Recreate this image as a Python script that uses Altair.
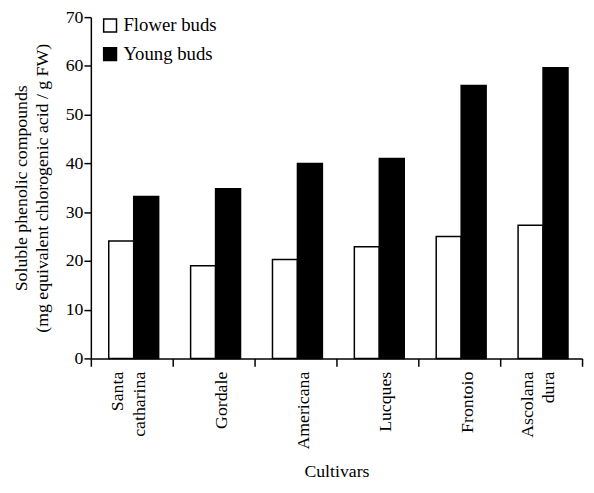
import altair as alt
import pandas as pd

cultivars = ["Santa catharina", "Gordale", "Americana", "Lucques", "Frontoio", "Ascolana dura"]
flower_buds = [24.1, 19.0, 20.3, 22.9, 25.0, 27.3]
young_buds = [33.2, 34.8, 40.0, 41.0, 56.0, 59.6]
series = ["Flower buds", "Young buds"]

rows = []
for c, f, y in zip(cultivars, flower_buds, young_buds):
    rows.append({"cultivar": c, "series": series[0], "value": f})
    rows.append({"cultivar": c, "series": series[1], "value": y})
df = pd.DataFrame(rows)

FONT = "Times New Roman, Liberation Serif, serif"

chart = alt.Chart(df).mark_bar(stroke="black", strokeWidth=1.5).encode(
    x=alt.X("cultivar:N", sort=cultivars,
            scale=alt.Scale(paddingInner=0, paddingOuter=0),
            axis=alt.Axis(title="Cultivars", labelAngle=270, labelAlign="right",
                          labelBaseline="middle", labelPadding=5,
                          labelExpr="indexof(datum.label, ' ') >= 0 ? split(datum.label, ' ') : ['', datum.label]",
                          labelLineHeight=22, labelOffset=-14,
                          tickBand="extent", tickSize=8, tickWidth=1.5,
                          domainWidth=1.5, titlePadding=14)),
    xOffset=alt.XOffset("series:N", sort=series,
                        scale=alt.Scale(paddingOuter=0.64, paddingInner=0, align=0.56)),
    y=alt.Y("value:Q", scale=alt.Scale(domain=[0, 70], nice=False),
            axis=alt.Axis(title=["Soluble phenolic compounds",
                                 "(mg equivalent chlorogenic acid / g FW)"],
                          values=[0, 10, 20, 30, 40, 50, 60, 70],
                          tickSize=7, tickWidth=1.5, domainWidth=1.5,
                          labelPadding=1, titlePadding=14, titleLineHeight=21)),
    fill=alt.Fill("series:N", sort=series,
                  scale=alt.Scale(domain=series, range=["white", "black"]),
                  legend=alt.Legend(title=None, orient="none", legendX=10, legendY=-1,
                                    symbolType="square", symbolSize=170,
                                    symbolStrokeColor="black", symbolStrokeWidth=1.5,
                                    labelFontSize=19, rowPadding=8, labelOffset=4)),
).properties(
    width=498, height=346,
    autosize=alt.AutoSizeParams(type="none"),
    padding={"left": 84, "top": 6, "right": 4, "bottom": 120},
).configure_view(stroke=None).configure_axis(
    grid=False, domainColor="black", tickColor="black",
    labelColor="black", titleColor="black",
    labelFont=FONT, titleFont=FONT, labelFontSize=18, titleFontSize=18,
    titleFontWeight="normal",
).configure_legend(labelFont=FONT, labelColor="black")

chart.save("out.html", embed_options={"renderer": "svg", "actions": False})
